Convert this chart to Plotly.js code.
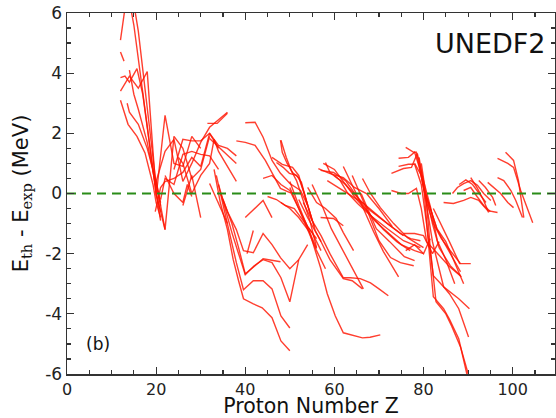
<!DOCTYPE html>
<html>
<head>
<meta charset="utf-8">
<script src="https://cdn.plot.ly/plotly-3.0.1.min.js"></script>
<style>html,body{margin:0;padding:0;background:#fff;}#chart{width:556px;height:418px;}</style>
</head>
<body>
<div id="chart"></div>
<script>
// Proton number Z and residual E_th - E_exp (MeV), one chain per sub-array
const lightZ = [
  [12,13,14,16,18,20,21],
  [13,14,15,16,18,20,22],
  [12,12.8],
  [12,13,14,15.7,17,18,20,21],
  [12,14,16,18,19,20,21],
  [12,13.7,15.7,17.5,19.3,20,21],
  [13.5,14,16,18,20,21],
  [14,15,16,18,20]
];
const lightE = [
  [5.1,6.0,7.2,5.4,2.8,0.3,-0.4],
  [7.5,6.4,5.6,4.5,2.3,0.0,-1.2],
  [4.7,4.4],
  [3.85,3.9,3.7,4.15,3.3,2.2,0.0,-0.9],
  [3.4,3.9,3.5,4.05,2.0,0.0,-0.6],
  [3.1,2.3,1.9,1.35,0.3,-0.3,-0.8],
  [3.0,2.7,2.3,1.5,0.4,-0.3],
  [4.1,3.3,2.8,1.7,0.2]
];
const sdZ = [
  [20,22,24,26,28,30],
  [19.8,22,24,26,28,30,32,34,36],
  [20,21,22,24,26,28,30,32],
  [19.8,21,22,24,26,28,30,32,34,36,38],
  [21,22,24,26,28,30,32,34],
  [24,26,28,30,32,34],
  [25,26,28,30,32,33,34,36,38],
  [26,28,30],
  [22,24,26,27,28],
  [31.5,33.7,36],
  [32,34,36,38],
  [32,34.4,36]
];
const sdE = [
  [-0.1,2.6,1.0,0.9,1.9,1.5],
  [0.3,1.4,1.8,0.4,1.0,1.7,2.2,2.45,2.7],
  [0.4,-0.4,-1.2,1.9,1.5,0.5,0.8,1.9],
  [-0.6,0.2,0.4,0.5,0.7,1.2,0.9,2.0,1.6,1.5,1.25],
  [-0.2,0.5,0.3,1.3,1.4,1.3,1.25,0.8],
  [0.8,1.8,1.75,1.75,2.0,1.5],
  [1.2,1.0,0.0,0.6,1.0,1.8,1.4,0.9,0.4],
  [-0.4,0.6,-0.8],
  [0.6,0.0,-0.3,0.3,-0.1],
  [2.33,2.33,2.67],
  [1.83,1.55,1.27,1.0],
  [0.33,-0.47,-1.0]
];
const fpZ = [
  [33,34.4,36,37.3,38.5,39.6,41.8,43.8,46,48,50],
  [33.5,35,36.5,38,39.6,41.8,44,46,48,50],
  [34,35.5,37,38.5,40,42,44,46,48,50,52],
  [34.5,36,38,39.6,41.8,44,46,47.9,50,52,54],
  [35,37,38.5,40,42.2,44,47.9],
  [40.4,41.8],
  [40,44,46]
];
const fpE = [
  [0.8,-0.3,-1.2,-2.2,-2.9,-3.5,-3.67,-3.8,-4.13,-4.9,-5.23],
  [0.6,-0.4,-1.4,-2.3,-3.2,-2.9,-2.9,-3.17,-4.07,-4.47],
  [0.3,-0.5,-1.3,-2.0,-2.7,-2.4,-2.2,-2.3,-2.8,-3.6,-2.2],
  [0.0,-0.6,-1.2,-1.9,-1.97,-1.33,-1.7,-2.13,-2.5,-2.2,-1.7],
  [-0.2,-1.0,-1.8,-2.67,-2.4,-2.17,-2.27],
  [-2.0,-1.23],
  [-0.8,-0.23,-0.8]
];
const midZ = [
  [38,40,42.2,44.5,47.9,50,52.4],
  [40,42.2,44,46,47.9,50,52.4,54],
  [47,48.5,49.9,51.5,52.6,54,55.5],
  [48,49.2,50.3,51.5,53,54.5,56],
  [47.9,48.3,49.4,50.6,52,53,54.6,55.7,57],
  [46,48.3,50.6,52,53.5,55],
  [44,46,48,50,52,54,56],
  [45,47,49,51,53,55,57],
  [48,50,52,54.4,56],
  [50,52,54,56,58]
];
const midE = [
  [1.75,1.7,1.6,1.1,0.17,0.03,0.0],
  [2.35,2.37,1.87,1.1,0.67,0.33,0.1,-0.4],
  [1.03,0.87,0.67,0.6,0.37,-0.4,-1.1],
  [1.77,1.2,0.77,0.43,-0.23,-0.9,-1.8],
  [1.77,1.37,1.0,0.7,0.53,0.1,-0.67,-1.23,-1.6],
  [1.2,0.97,0.87,0.6,-0.13,-0.9],
  [0.5,0.6,0.3,0.1,-0.5,-1.1,-1.5],
  [-0.1,-0.2,-0.4,-0.5,-0.9,-1.3,-1.9],
  [-0.3,-0.5,-0.8,-1.27,-1.83],
  [0.2,-0.5,-1.2,-1.9,-2.5]
];
const rareZ = [
  [50,52,54.4,56.9,58.4,60.2,62,64,66.3,68,70.3],
  [52,54,56.9,59,62,64,66.3],
  [53,55,57,59,62,63.6,65.8,68.1,70,72.1],
  [54,56,58,60.4,62,64.3],
  [55,57.5,59.3,62,64.9,66.5],
  [62,64,66.5,68.8,71,74.4],
  [64,67.2,70,72.6,74.8,77.8],
  [66,69.4,72.4,75.7,78],
  [56.9,59.8,62.5,65.2,68.1,71.9,74.8,77.1,79.3],
  [58,59,61.3,62.9,65.2,68.1,71.9,75.5,79.3],
  [58.4,62,66.5,71.9,75.5],
  [66.3,68.1,70.3,73.3,76.4,80],
  [56.9,59.8,62],
  [56.4,58.9,62,64.5,67.2,70,73],
  [57.5,60,62.5,65,68,71,74,77],
  [60,62.5,65,67,69,72,75,78,80],
  [75.5,78,80,82,83.5],
  [76,78,80,81.5]
];
const rareE = [
  [0.4,-0.4,-1.27,-2.47,-3.33,-4.07,-4.63,-4.72,-4.8,-4.78,-4.7],
  [-0.2,-0.8,-1.57,-2.2,-2.83,-2.9,-3.17],
  [-0.3,-0.9,-1.4,-2.0,-2.8,-2.8,-2.83,-2.97,-3.17,-3.4],
  [0.2,-0.3,-0.5,-0.83,-1.3,-1.9],
  [0.3,-0.5,-1.17,-1.93,-2.73,-3.17],
  [0.9,0.3,-0.5,-1.27,-1.93,-2.77],
  [0.6,-0.5,-1.57,-2.13,-2.3,-2.4],
  [0.0,-1.17,-1.6,-2.1,-2.23],
  [0.77,0.7,0.43,-0.13,-0.57,-1.0,-1.33,-1.5,-1.57],
  [1.03,0.7,0.43,0.03,-0.33,-0.73,-1.17,-1.57,-1.8],
  [0.43,0.1,-0.33,-1.0,-1.4],
  [0.5,0.0,-0.47,-1.0,-1.47,-1.8],
  [-0.8,-0.83,-1.07],
  [0.83,0.67,0.53,0.2,0.0,-0.5,-1.1],
  [1.0,0.8,0.3,-0.2,-0.7,-1.2,-1.6,-1.9],
  [0.6,0.3,-0.1,-0.5,-0.9,-1.3,-1.7,-1.9,-2.0],
  [-1.33,-1.33,-1.4,-2.0,-1.6],
  [-1.9,-1.7,-2.0,-1.5]
];
const heavyZ = [
  [72.8,75.5,77.3,78,78.6,80,81.6,83.1,85,87],
  [74.4,76.6,78,79,80,81.5,83,85,87,89],
  [76,77.8,78.4,79.5,80.7,82.2,84,86,88.3],
  [72.8,75,76.6,78.4,79.5,80.7,83.6,85.8,88.5],
  [74.4,76.6,78,79.5,80.5,82.2,84.5,85.8,87.9,90.1],
  [78,79.5,80.5,82,84.5,87.9,90.3],
  [79,80,81,82.2,84.5,85.8,87.9,89.7,90.5],
  [79.5,80.5,81.5,82.8,85,86.3,88.3,90,91],
  [80,81.6,83,84.5,86,88.3],
  [80.5,82,83.5,86,88.3],
  [82.2,84.5,85.8,88.1,90.6],
  [86.5,87.6,89,90.6,92.1,93.5,95.1],
  [84.5,86.7,89,90.6,92.4,94.4,96.6],
  [90.6,92.1,93.5,94.6],
  [92.4,93.9,95.5,96.2],
  [94.4,95.7,97.3,98.9,100.2],
  [96.6,98,99.6,100.7,102.2],
  [96.6,98.9,100.2,101.8,104.5],
  [98.4,100.2,101.3,102.5],
  [89,90.6,92,93.5,95],
  [88,89.5,91,92.5,94]
];
const heavyE = [
  [0.67,0.83,0.87,1.1,1.33,0.43,-0.47,-1.57,-2.2,-3.0],
  [1.17,1.2,1.37,0.9,0.2,-0.5,-1.17,-1.6,-2.33,-3.0],
  [1.53,1.37,1.37,0.6,-0.3,-1.0,-1.5,-1.9,-2.33],
  [0.1,0.0,0.0,0.17,-0.5,-1.6,-2.07,-2.43,-2.77],
  [0.9,0.97,0.97,0.3,-0.8,-2.73,-3.1,-3.33,-3.83,-4.77],
  [1.0,0.6,-0.2,-1.6,-3.1,-3.5,-3.83],
  [1.2,0.3,-1.5,-3.43,-3.83,-4.17,-4.83,-5.9,-6.5],
  [1.0,0.0,-1.8,-3.6,-4.0,-4.4,-5.1,-6.0,-6.5],
  [0.2,-0.5,-1.17,-1.6,-2.0,-2.6],
  [0.0,-1.0,-1.8,-2.4,-2.73],
  [-0.5,-1.17,-1.6,-2.33,-2.33],
  [0.0,0.2,0.33,0.43,0.27,0.0,-0.23],
  [-0.3,-0.33,-0.23,-0.13,-0.23,-0.57,-0.63],
  [0.53,0.17,-0.23,-0.63],
  [0.43,0.2,-0.13,-0.4],
  [0.37,0.2,0.0,-0.3,-0.47],
  [0.53,0.43,0.1,-0.23,-0.8],
  [1.17,1.0,0.87,0.1,-0.97],
  [1.37,1.1,0.43,-0.8],
  [0.1,0.2,-0.1,-0.4,-0.6],
  [0.3,0.45,0.3,0.0,-0.3]
];
const refLineZ = [0, 110];
const refLineE = [0, 0];
const xTickVals = [0,20,40,60,80,100];
const yTickVals = [-6,-4,-2,0,2,4,6];
const yTickText = ['-6','-4','-2','0','2','4','6'];

const traces = [];
const groups = [[lightZ,lightE],[sdZ,sdE],[fpZ,fpE],[midZ,midE],[rareZ,rareE],[heavyZ,heavyE]];
groups.forEach(([zs, es]) => {
  zs.forEach((z, i) => {
    traces.push({
      x: z, y: es[i], type: 'scatter', mode: 'lines',
      line: {color: 'rgba(255,20,0,0.82)', width: 1.4},
      hoverinfo: 'skip', showlegend: false
    });
  });
});
traces.push({
  x: refLineZ, y: refLineE, type: 'scatter', mode: 'lines',
  line: {color: '#2a8c18', width: 2, dash: '9px,6px'},
  hoverinfo: 'skip', showlegend: false
});

const fontFam = "'DejaVu Sans', sans-serif";
const layout = {
  width: 556, height: 418,
  margin: {l: 67, r: 1, t: 13, b: 44},
  paper_bgcolor: '#fff', plot_bgcolor: '#fff',
  font: {family: fontFam, color: '#222', size: 17},
  xaxis: {
    range: [0, 109.5], tickvals: xTickVals,
    ticks: 'inside', ticklen: 7, tickwidth: 1.2, tickcolor: '#333',
    showline: true, linecolor: '#333', linewidth: 1.5, mirror: 'allticks',
    showgrid: false, zeroline: false,
    minor: {dtick: 5, tick0: 0, ticks: 'inside', ticklen: 4, tickcolor: '#333', showgrid: false},
    tickfont: {size: 16, family: fontFam, color: '#222'},
    title: {text: 'Proton Number Z', font: {size: 20.5, family: fontFam, color: '#111'}, standoff: 5}
  },
  yaxis: {
    range: [-6, 6], tickvals: yTickVals, ticktext: yTickText,
    ticks: 'inside', ticklen: 7, tickwidth: 1.2, tickcolor: '#333',
    showline: true, linecolor: '#333', linewidth: 1.5, mirror: 'allticks',
    showgrid: false, zeroline: false,
    minor: {dtick: 0.5, tick0: 0, ticks: 'inside', ticklen: 4, tickcolor: '#333', showgrid: false},
    tickfont: {size: 17, family: fontFam, color: '#222'},
    title: {text: "E<sub><span style=\"font-family:'DejaVu Serif'\">th</span></sub> - E<sub><span style=\"font-family:'DejaVu Serif'\">exp</span></sub> (MeV)", font: {size: 21, family: fontFam, color: '#111'}, standoff: 11}
  },
  annotations: [
    {text: 'UNEDF2', xref: 'paper', yref: 'paper', x: 0.985, y: 0.915, xanchor: 'right', yanchor: 'middle', showarrow: false, font: {size: 27, family: fontFam, color: '#111'}},
    {text: '(b)', xref: 'x', yref: 'y', x: 7, y: -5.0, xanchor: 'center', yanchor: 'middle', showarrow: false, font: {size: 17, family: fontFam, color: '#111'}}
  ]
};
Plotly.newPlot('chart', traces, layout, {staticPlot: true, displayModeBar: false});
</script>
</body>
</html>
